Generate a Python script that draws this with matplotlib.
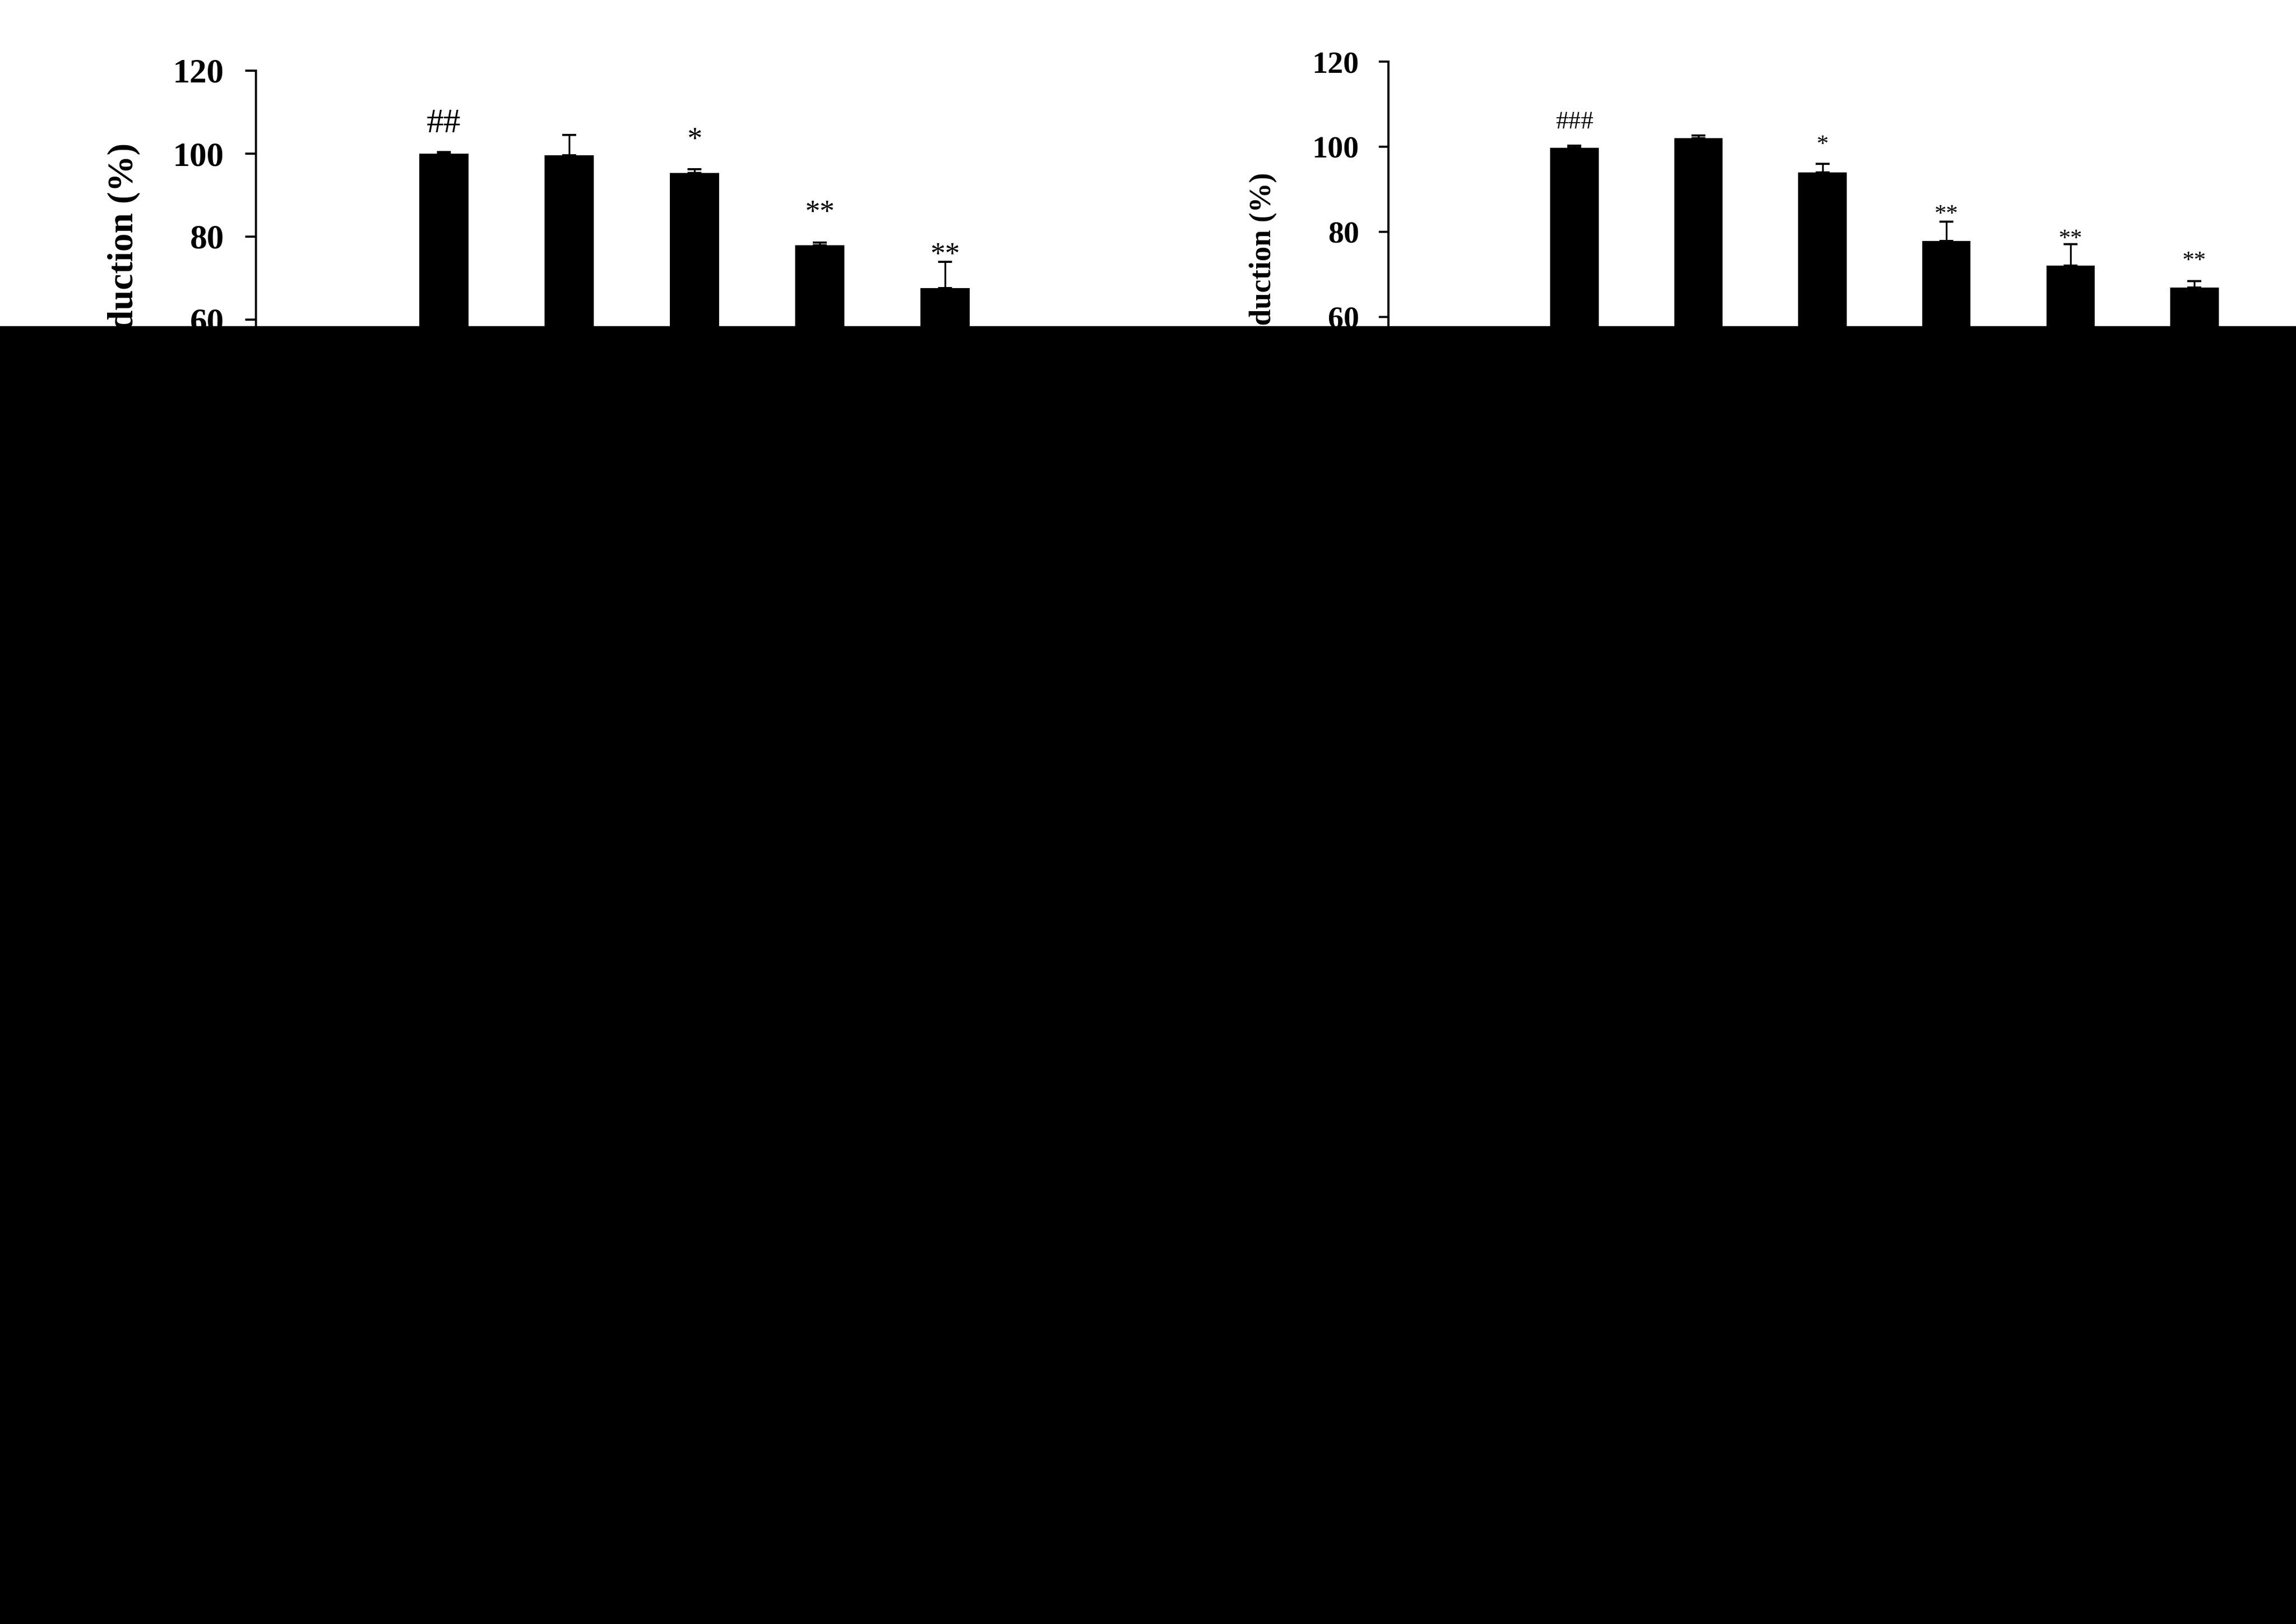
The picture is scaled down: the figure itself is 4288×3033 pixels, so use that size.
import numpy as np
import matplotlib
matplotlib.use("Agg")
import matplotlib.pyplot as plt
from matplotlib.patches import Rectangle

# ---------------- data ----------------
y_ticks = [0, 20, 40, 60, 80, 100, 120]
y_label = "Nitrite production (%)"

left_values = [100.0, 99.6, 95.4, 77.9, 67.6]
left_errors = [0.4, 4.9, 0.8, 0.7, 6.3]
left_marks = ["##", "", "*", "**", "**"]
left_mark_y = [105.2, np.nan, 101.3, 83.8, 73.6]

right_values = [99.7, 102.0, 93.9, 77.8, 72.0, 66.8]
right_errors = [0.55, 0.6, 2.0, 4.5, 5.0, 1.55]
right_marks = ["###", "", "*", "**", "**", "**"]
right_mark_y = [104.2, np.nan, 99.0, 82.6, 76.8, 71.6]

W, H = 4288, 3033
fig = plt.figure(figsize=(W / 100, H / 100), dpi=100, facecolor="white")
SERIF = ["Liberation Serif", "DejaVu Serif"]


def px_axes(x0, x1, ytop, ybot):
    return [x0 / W, 1 - ybot / H, (x1 - x0) / W, (ybot - ytop) / H]


def panel(rect, values, errors, marks, mark_y, tick_fs, label_fs, hash_fs,
          star_fs, tick_len, tick_pad, label_x):
    ax = fig.add_axes(rect)
    x = np.arange(1, len(values) + 1)
    ax.bar(x, values, width=0.39, color="black", zorder=2)
    ax.errorbar(x, values, yerr=[np.zeros(len(errors)), errors], fmt="none",
                ecolor="black", elinewidth=2.4, capsize=9.5, capthick=2.8,
                zorder=3)
    for xi, m, my in zip(x, marks, mark_y):
        if m:
            fs = hash_fs if "#" in m else star_fs
            ax.text(xi, my, m, ha="center", va="baseline", fontsize=fs,
                    family=SERIF, color="black")
    ax.set_xlim(-0.5, 6.5)
    ax.set_ylim(0, 120)
    ax.set_yticks(y_ticks)
    ax.set_yticklabels([str(t) for t in y_ticks], family=SERIF,
                       fontweight="bold", fontsize=tick_fs)
    ax.set_xticks([])
    ax.tick_params(axis="y", direction="out", length=tick_len, width=2.9,
                   pad=tick_pad)
    for s in ["top", "right"]:
        ax.spines[s].set_visible(False)
    ax.spines["left"].set_linewidth(2.9)
    ax.spines["bottom"].set_linewidth(2.9)
    ax.set_ylabel(y_label, family=SERIF, fontweight="bold", fontsize=label_fs)
    ax.yaxis.set_label_coords(label_x, 0.5)
    return ax


panel(px_axes(478, 478 + 7 * 234, 132, 1062), left_values, left_errors,
      left_marks, left_mark_y, tick_fs=46, label_fs=49, hash_fs=46,
      star_fs=40, tick_len=14.4, tick_pad=28.5, label_x=-0.132)
panel(px_axes(2593, 2593 + 7 * 231.6, 115, 1068), right_values, right_errors,
      right_marks, right_mark_y, tick_fs=42, label_fs=40, hash_fs=34,
      star_fs=32, tick_len=13, tick_pad=26.5, label_x=-0.128)

# the reference image is blacked out below this line
cut = 608.5
fig.add_artist(Rectangle((0, 0), 1, 1 - cut / H, transform=fig.transFigure,
                         facecolor="black", edgecolor="none", zorder=50))

fig.savefig("out.png", dpi=100, facecolor="white")
